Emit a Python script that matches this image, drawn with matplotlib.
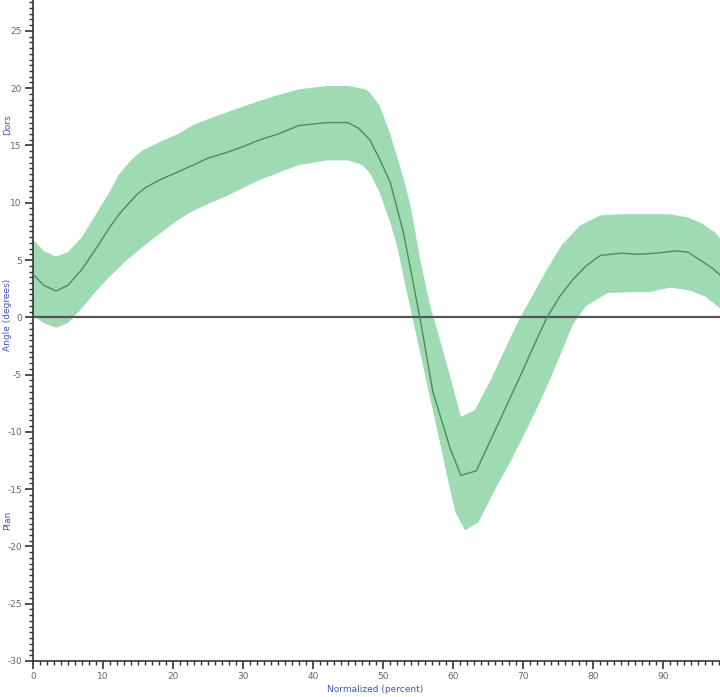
import matplotlib.pyplot as plt
import numpy as np
from matplotlib.ticker import MultipleLocator

plt.rcParams['axes.unicode_minus'] = False

# mean curve (percent of cycle, degrees)
mean_x = [0, 1.5, 3.3, 5, 7, 8.9, 11, 12.3, 13.6, 14.8, 16, 18.1, 20.7, 22.9, 25, 27.7,
          30, 32.4, 35, 38, 42, 45, 46.5, 48.1, 49.5, 51, 52.9, 55.3, 57.1, 59.6, 61.1,
          63.3, 64.9, 66.5, 68.3, 69.6, 71.5, 73.4, 75.3, 77.1, 79, 81, 84, 86.4, 89,
          91.7, 93.5, 95, 97, 98.1]
mean_y = [3.8, 2.8, 2.3, 2.8, 4.2, 5.9, 7.9, 9.0, 9.9, 10.7, 11.3, 12.0, 12.7, 13.3,
          13.9, 14.4, 14.9, 15.5, 16.0, 16.75, 17.0, 17.0, 16.5, 15.5, 13.8, 11.8, 7.4,
          -0.2, -6.5, -11.5, -13.8, -13.4, -11.3, -9.2, -6.8, -5.1, -2.5, 0.0, 1.9,
          3.3, 4.5, 5.4, 5.6, 5.5, 5.6, 5.8, 5.7, 5.1, 4.3, 3.7]

# upper edge of the band
up_x = [0, 1.5, 3.3, 5, 7, 8.6, 11, 12.2, 13.4, 14.5, 15.7, 18.1, 20.7, 22.9, 25, 27.7,
        30, 32.4, 35, 38, 42, 45, 47.5, 48.1, 49.5, 51, 52.5, 53.9, 55.3, 56.7, 57.9,
        59.5, 61.1, 63.1, 65.5, 68.3, 69.6, 71.7, 73.4, 75.5, 78.1, 81, 84, 87.9, 91,
        93.6, 95.5, 97.4, 98.1]
up_y = [6.8, 5.8, 5.3, 5.7, 7.0, 8.6, 11.0, 12.4, 13.3, 14.0, 14.6, 15.3, 16.0, 16.8,
        17.3, 17.9, 18.4, 18.9, 19.4, 19.9, 20.2, 20.2, 19.9, 19.6, 18.5, 16.0, 13.0,
        9.8, 5.0, 1.0, -1.5, -5.0, -8.7, -8.1, -5.3, -1.6, 0.0, 2.3, 4.2, 6.3, 8.0,
        8.9, 9.0, 9.0, 9.0, 8.7, 8.2, 7.4, 6.9]

# lower edge of the band
lo_x = [0, 1.5, 3.3, 5, 7, 8.9, 11, 13.6, 16, 18.1, 20.7, 22.9, 25, 27.7, 30, 32.4,
        35, 38, 42, 45, 47, 48.1, 49.5, 51, 52, 53, 54, 55, 56.4, 58, 59.3, 60.3, 61.7,
        63.6, 66, 68, 70, 72, 74, 75.5, 77.1, 79, 82, 85, 87.9, 91.1, 94, 96, 98.1]
lo_y = [0.2, -0.5, -0.9, -0.5, 0.8, 2.2, 3.6, 5.1, 6.3, 7.3, 8.5, 9.3, 9.9, 10.6, 11.3,
        12.0, 12.6, 13.3, 13.7, 13.7, 13.3, 12.6, 10.9, 8.3, 6.2, 3.3, 0.5, -2.3,
        -6.2, -10.6, -14.3, -17.0, -18.6, -17.9, -15.0, -12.8, -10.4, -7.9, -5.2,
        -3.0, -0.6, 1.0, 2.1, 2.2, 2.2, 2.6, 2.3, 1.8, 0.8]

fig = plt.figure(figsize=(7.2, 6.97), dpi=100)
ax = fig.add_axes([33 / 720, 36 / 697, 687 / 720, 661 / 697])

band_x = np.concatenate([up_x, lo_x[::-1]])
band_y = np.concatenate([up_y, lo_y[::-1]])
ax.fill(band_x, band_y, color='#9edbb2', lw=0, zorder=1)
ax.plot(mean_x, mean_y, color='#4f8a5e', lw=1.0, zorder=3)
ax.axhline(0, color='#555555', lw=1.6, zorder=2)

ax.set_xlim(0, 98.1)
ax.set_ylim(-30, 27.7)
ax.xaxis.set_major_locator(MultipleLocator(10))
ax.xaxis.set_minor_locator(MultipleLocator(1))
ax.yaxis.set_major_locator(MultipleLocator(5))
ax.yaxis.set_minor_locator(MultipleLocator(0.5))
ax.tick_params(which='major', length=6, width=1.2, color='#333333',
               labelsize=6.5, labelcolor='#666666', pad=2)
ax.tick_params(which='minor', length=3, width=1.0, color='#333333')

for s in ['top', 'right']:
    ax.spines[s].set_visible(False)
for s in ['left', 'bottom']:
    ax.spines[s].set_color('#333333')
    ax.spines[s].set_linewidth(1.2)

blue = '#4455bb'
fig.text(375 / 720, 1 - 690 / 697, 'Normalized (percent)', color=blue,
         fontsize=6.5, ha='center', va='center')
fig.text(8 / 720, 1 - 315 / 697, 'Angle (degrees)', color=blue, fontsize=6.5,
         rotation=90, ha='center', va='center')
fig.text(8 / 720, 1 - 125 / 697, 'Dors', color=blue, fontsize=6.5,
         rotation=90, ha='center', va='center')
fig.text(8 / 720, 1 - 520 / 697, 'Plan', color=blue, fontsize=6.5,
         rotation=90, ha='center', va='center')

plt.savefig('out.png', dpi=100)
